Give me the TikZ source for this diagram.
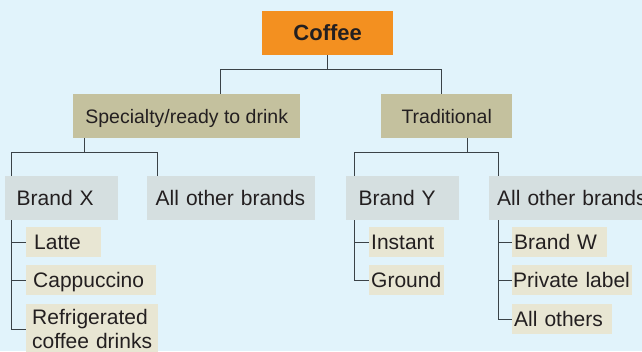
\documentclass[tikz,border=0pt]{standalone}
\usepackage{fontspec}
\setmainfont{Liberation Sans}

\definecolor{bgblue}{HTML}{E1F3FB}
\definecolor{coffeeorange}{HTML}{F39020}
\definecolor{cattan}{HTML}{C4C19E}
\definecolor{brandgrey}{HTML}{D5DFE0}
\definecolor{itembeige}{HTML}{E8E6D3}
\definecolor{linegrey}{HTML}{3A4247}
\definecolor{textblack}{HTML}{231F20}

\begin{document}
\begin{tikzpicture}[x=1pt,y=-1pt,
  every node/.style={anchor=north west, inner ysep=0pt, text=textblack,
    font=\fontsize{21}{24}\selectfont, text height=15pt, text depth=0pt},
  root/.style={fill=coffeeorange, font=\fontsize{22}{26}\selectfont\bfseries,
    minimum width=131pt, minimum height=44pt, inner xsep=0pt},
  cat/.style={fill=cattan, font=\fontsize{19.5}{23}\selectfont,
    minimum height=44pt, inner xsep=0pt},
  brand/.style={fill=brandgrey, minimum height=44pt, inner xsep=11pt, align=left},
  item/.style={fill=itembeige, minimum height=30pt, align=left},
  link/.style={draw=linegrey, line width=1pt}]

 \useasboundingbox (0,0) rectangle (642,351);
 \clip (0,0) rectangle (642,351);
 \fill [bgblue] (0,0) rectangle (642,351);

 \node [root] (coffee) at (262,11) {Coffee};

 \node [cat, minimum width=227pt] (spec) at (73,94) {Specialty/ready to drink};
 \node [cat, minimum width=131pt] (trad) at (381,94) {Traditional};

 \node [brand, inner xsep=11.5pt, text width=90pt] (brandx) at (5,176) {Brand X};
 \node [brand, inner xsep=8.5pt, text width=151pt] (othersa) at (147,176) {All other brands};
 \node [brand, inner xsep=12.5pt, text width=88pt] (brandy) at (346,176) {Brand Y};
 \node [brand, inner xsep=8pt, text width=160pt] (othersb) at (489,176) {All other brands};

 \node [item, inner xsep=8pt, text width=59pt] (latte) at (26,227) {Latte};
 \node [item, inner xsep=7pt, text width=116pt] (cappuccino) at (26,265) {Cappuccino};
 \node [item, inner xsep=6pt, inner ysep=5.5pt, text width=120pt,
   text height={}, text depth={}] (refrigerated) at (26,304) {Refrigerated\\coffee drinks};

 \node [item, inner xsep=2pt, text width=71pt] (instant) at (369,227) {Instant};
 \node [item, inner xsep=2pt, text width=71pt] (ground) at (369,265) {Ground};

 \node [item, inner xsep=2pt, text width=91pt] (brandw) at (512,227) {Brand W};
 \node [item, inner xsep=1pt, text width=118pt] (private) at (512,265) {Private label};
 \node [item, inner xsep=2pt, text width=96pt] (allothers) at (512,304) {All others};

 % first level
 \draw [link] (coffee.south) -- ++(0,14) -| ([xshift=147pt]spec.north west);
 \draw [link] (coffee.south) -- ++(0,14) -| ([xshift=60pt]trad.north west);

 % second level
 \draw [link] ([xshift=11pt]spec.south west) -- ++(0,14) -| ([xshift=6pt]brandx.north west);
 \draw [link] ([xshift=11pt]spec.south west) -- ++(0,14) -| ([xshift=10pt]othersa.north west);
 \draw [link] ([xshift=86pt]trad.south west) -- ++(0,14) -| ([xshift=8pt]brandy.north west);
 \draw [link] ([xshift=86pt]trad.south west) -- ++(0,14) -| ([xshift=9pt]othersb.north west);

 % products
 \draw [link] ([xshift=6pt]brandx.south west) |- (latte.west);
 \draw [link] ([xshift=6pt]brandx.south west) |- (cappuccino.west);
 \draw [link] ([xshift=6pt]brandx.south west) |- (refrigerated.west);

 \draw [link] ([xshift=8pt]brandy.south west) |- (instant.west);
 \draw [link] ([xshift=8pt]brandy.south west) |- (ground.west);

 \draw [link] ([xshift=9pt]othersb.south west) |- (brandw.west);
 \draw [link] ([xshift=9pt]othersb.south west) |- (private.west);
 \draw [link] ([xshift=9pt]othersb.south west) |- (allothers.west);

\end{tikzpicture}
\end{document}
